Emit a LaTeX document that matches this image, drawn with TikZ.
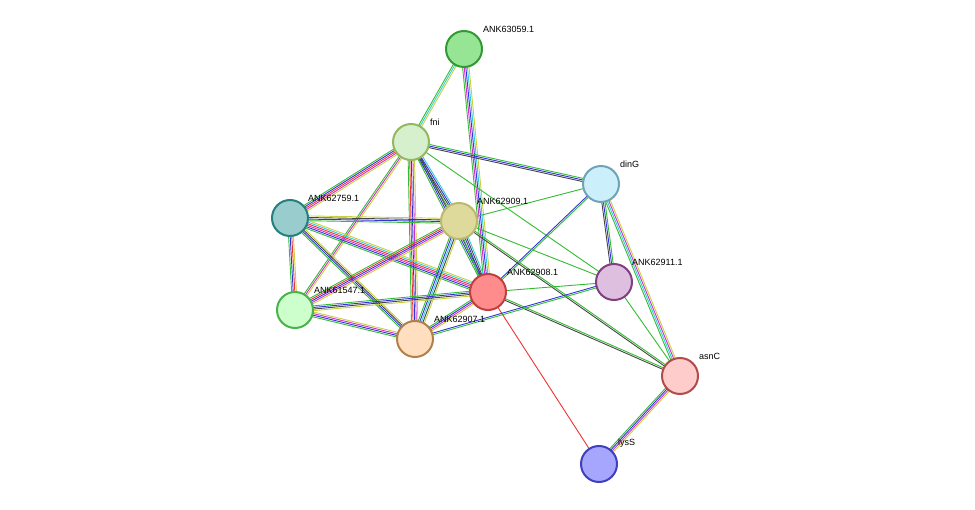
\documentclass[tikz,border=0pt]{standalone}
\usepackage{fontspec}
\setmainfont{Liberation Sans}
\usetikzlibrary{calc}
\definecolor{cg}{HTML}{33BB33}
\definecolor{cb}{HTML}{3333DD}
\definecolor{cr}{HTML}{EE3333}
\definecolor{cc}{HTML}{33CCDD}
\definecolor{cm}{HTML}{CC33CC}
\definecolor{cy}{HTML}{C8D040}
\definecolor{ck}{HTML}{444444}
\newcommand\edg[4]{%
  \foreach \col [count=\i] in {#4}{%
    \pgfmathsetmacro\off{(\i-(#3+1)/2)*1.6}%
    \draw[draw=\col,line width=0.9pt] ($(#1)!\off pt!90:(#2)$) -- ($(#2)!\off pt!-90:(#1)$);}}
\tikzset{pn/.style={circle,minimum size=36pt,inner sep=0pt,line width=2pt},
  lb/.style={font=\fontsize{9pt}{10pt}\selectfont,anchor=south west,inner sep=1pt}}
\begin{document}
\begin{tikzpicture}[x=1pt,y=-1pt]
\useasboundingbox (0,0) rectangle (975,510);
\coordinate (A) at (464,49);
\coordinate (F) at (411,142);
\coordinate (D) at (601,184);
\coordinate (B) at (290,218);
\coordinate (C) at (459,221);
\coordinate (E) at (488,292);
\coordinate (G) at (614,282);
\coordinate (H) at (295,310);
\coordinate (I) at (415,339);
\coordinate (S) at (680,376);
\coordinate (L) at (599,464);
\edg{A}{F}{3}{cg,cc,cy}
\edg{A}{E}{5}{cg,cm,cb,cc,cy}
\edg{F}{D}{3}{ck,cb,cg}
\edg{F}{B}{5}{cg,cb,cr,cm,cy}
\edg{F}{C}{4}{cg,ck,cb,cc}
\edg{F}{E}{3}{cg,cb,ck}
\edg{F}{H}{3}{cg,cm,cy}
\edg{F}{I}{5}{cg,cr,cb,cm,cy}
\edg{F}{G}{1}{cg}
\edg{D}{C}{1}{cg}
\edg{D}{E}{2}{cb,cg}
\edg{D}{G}{3}{ck,cb,cg}
\edg{D}{S}{4}{cg,cc,cm,cy}
\edg{B}{C}{4}{cg,cb,ck,cy}
\edg{B}{E}{6}{cg,cb,cm,cr,cc,cy}
\edg{B}{H}{4}{cg,cb,cr,cy}
\edg{B}{I}{4}{cg,cb,ck,cy}
\edg{C}{E}{4}{cg,cb,ck,cc}
\edg{C}{H}{5}{cg,cr,cb,cm,cy}
\edg{C}{I}{5}{cg,cb,cc,ck,cy}
\edg{C}{G}{1}{cg}
\edg{C}{S}{2}{ck,cg}
\edg{E}{H}{4}{cg,cb,ck,cy}
\edg{E}{I}{4}{cg,cb,cm,cy}
\edg{E}{G}{1}{cg}
\edg{E}{S}{2}{ck,cg}
\edg{E}{L}{1}{cr}
\edg{G}{I}{2}{cb,cg}
\edg{G}{S}{1}{cg}
\edg{H}{I}{4}{cg,cb,cm,cy}
\edg{S}{L}{4}{cg,cb,cm,cy}
\node[pn,fill=green!35!white!90!black,draw=green!50!black!80] (nA) at (A) {};
\node[pn,fill=yellow!20!green!20,draw=yellow!50!green!60!gray] (nF) at (F) {};
\node[pn,fill=cyan!20,draw=cyan!40!gray] (nD) at (D) {};
\node[pn,fill=teal!40!white,draw=teal!70!gray] (nB) at (B) {};
\node[pn,fill=yellow!50!gray!60,draw=yellow!40!gray] (nC) at (C) {};
\node[pn,fill=red!45,draw=red!50!gray] (nE) at (E) {};
\node[pn,fill=violet!25,draw=violet!50!gray] (nG) at (G) {};
\node[pn,fill=green!20,draw=green!40!gray] (nH) at (H) {};
\node[pn,fill=orange!25,draw=orange!40!gray] (nI) at (I) {};
\node[pn,fill=red!20,draw=red!40!gray] (nS) at (S) {};
\node[pn,fill=blue!35,draw=blue!50!gray] (nL) at (L) {};
\node[lb] at (482,34) {ANK63059.1};
\node[lb] at (429,127) {fni};
\node[lb] at (619,169) {dinG};
\node[lb] at (307,203) {ANK62759.1};
\node[lb] at (476,206) {ANK62909.1};
\node[lb] at (506,277) {ANK62908.1};
\node[lb] at (631,267) {ANK62911.1};
\node[lb] at (313,295) {ANK61547.1};
\node[lb] at (433,324) {ANK62907.1};
\node[lb] at (698,361) {asnC};
\node[lb] at (617,449) {lysS};
\end{tikzpicture}
\end{document}
